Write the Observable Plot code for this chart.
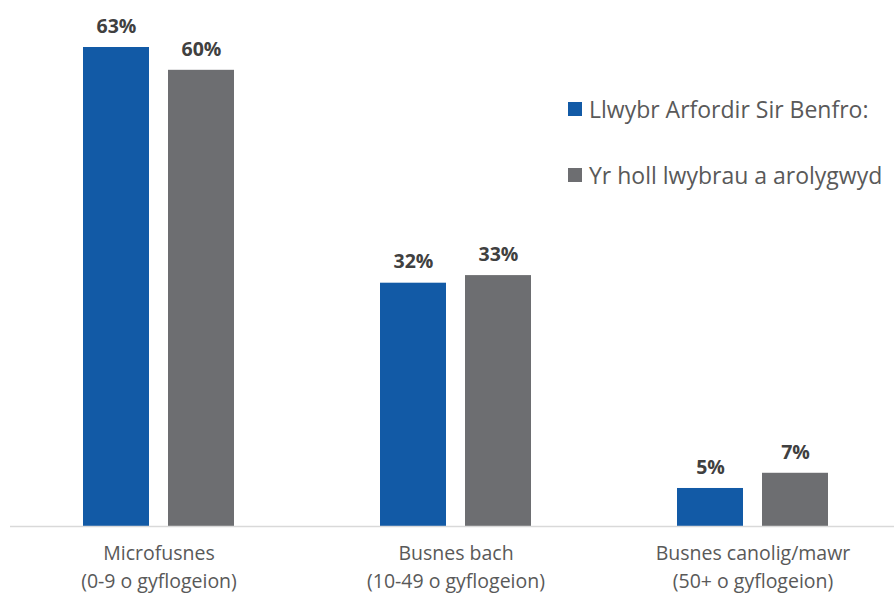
<!DOCTYPE html>
<html>
<head>
<meta charset="utf-8">
<script src="https://cdn.jsdelivr.net/npm/d3@7"></script>
<script src="https://cdn.jsdelivr.net/npm/@observablehq/plot@0.6"></script>
<style>
  html, body { margin: 0; padding: 0; background: #fff; }
  #wrap { position: relative; width: 894px; height: 597px; font-family: "Open Sans", sans-serif; overflow: hidden; }
  #legend { position: absolute; left: 568px; top: 92px; color: #595959; font-size: 23px; }
  #legend .item { display: flex; align-items: center; height: 34px; margin-bottom: 32px; white-space: nowrap; }
  #legend .sw { width: 14px; height: 14px; margin-right: 7px; flex: none; }
</style>
</head>
<body>
<div id="wrap"><div id="legend"></div></div>
<script>
const categories = ["Microfusnes\n(0-9 o gyflogeion)", "Busnes bach\n(10-49 o gyflogeion)", "Busnes canolig/mawr\n(50+ o gyflogeion)"];
const seriesNames = ["Llwybr Arfordir Sir Benfro:", "Yr holl lwybrau a arolygwyd"];
const seriesColors = ["#125AA6", "#6D6E71"];
const pembrokeshire = [63, 32, 5];
const allTrails = [60, 33, 7];

const data = categories.flatMap((c, i) => [
  {category: c, series: seriesNames[0], value: pembrokeshire[i], idx: 0},
  {category: c, series: seriesNames[1], value: allTrails[i], idx: 1}
]);
const s0 = data.filter(d => d.idx === 0);
const s1 = data.filter(d => d.idx === 1);

const chart = Plot.plot({
  width: 894,
  height: 597,
  marginLeft: 10,
  marginRight: 0,
  marginTop: 0,
  marginBottom: 71,
  style: {fontFamily: "'Open Sans', sans-serif", background: "#fff"},
  x: {domain: categories, range: [82, 828], paddingInner: 0.4924, paddingOuter: 0},
  y: {domain: [0, 63], range: [526, 47], axis: null},
  color: {domain: seriesNames, range: seriesColors},
  marks: [
    Plot.barY(s0, {x: "category", y: "value", fill: "series", insetRight: 85}),
    Plot.barY(s1, {x: "category", y: "value", fill: "series", insetLeft: 85}),
    Plot.text(s0, {x: "category", y: "value", text: d => d.value + "%", dx: -42.5, dy: -21, fontSize: 19.5, fontWeight: "bold", fill: "#404040"}),
    Plot.text(s1, {x: "category", y: "value", text: d => d.value + "%", dx: 42.5, dy: -21, fontSize: 19.5, fontWeight: "bold", fill: "#404040"}),
    Plot.ruleY([0], {stroke: "#D9D9D9", strokeWidth: 1.3}),
    Plot.axisX({tickSize: 0, tickPadding: 14, fontSize: 19.5, lineHeight: 1.42, fill: "#595959", label: null})
  ]
});
const wrap = document.getElementById("wrap");
wrap.insertBefore(chart, wrap.firstChild);
chart.style.position = "absolute";
chart.style.left = "0";
chart.style.top = "0";

const legend = d3.select("#legend");
seriesNames.forEach((n, i) => {
  const it = legend.append("div").attr("class", "item");
  it.append("div").attr("class", "sw").style("background", seriesColors[i]);
  it.append("span").text(n);
});
</script>
</body>
</html>
